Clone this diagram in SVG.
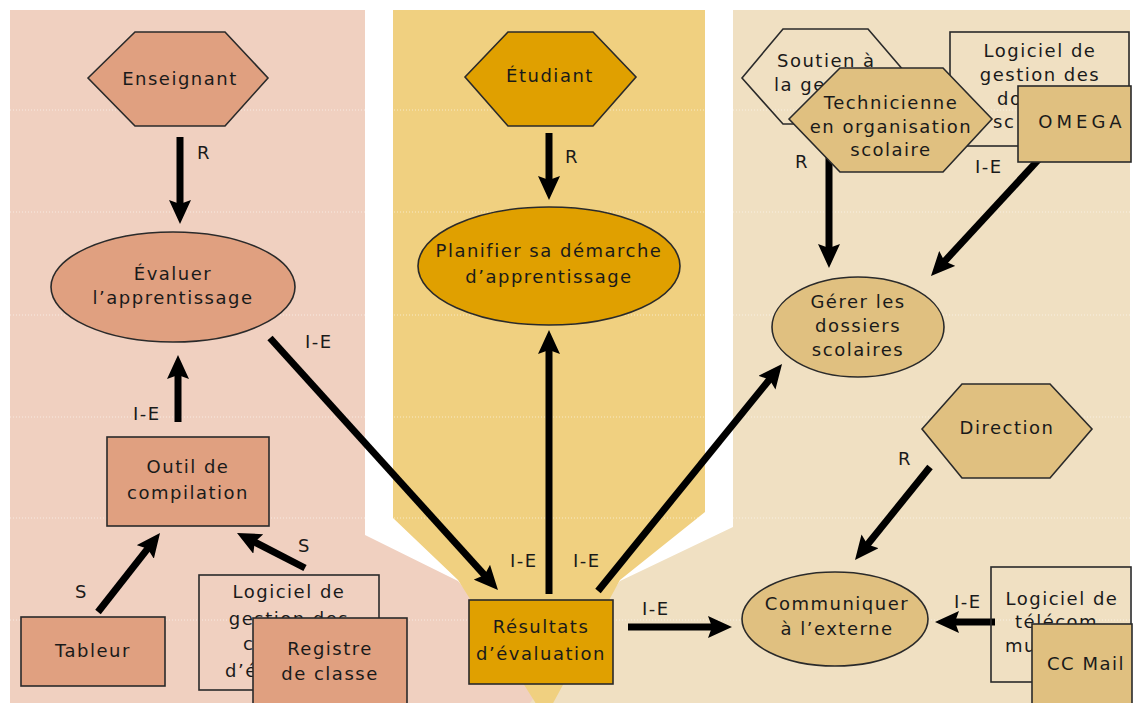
<svg xmlns="http://www.w3.org/2000/svg" width="1134" height="703" viewBox="0 0 1134 703">
<defs>
<marker id="ah" viewBox="0 0 24 22" refX="6" refY="11" markerWidth="24" markerHeight="22" markerUnits="userSpaceOnUse" orient="auto">
<path d="M0,0 L24,11 L0,22 L4,11 Z" fill="#000"/>
</marker>
<style>
.t{font-family:"DejaVu Sans","Liberation Sans",sans-serif;font-size:18px;fill:#1a1a1a;letter-spacing:1.5px;text-anchor:middle}
.s{text-anchor:start}
.lb{font-family:"DejaVu Sans","Liberation Sans",sans-serif;font-size:18px;fill:#1a1a1a;letter-spacing:1.5px}
.ln{stroke:#000;stroke-width:7;fill:none;marker-end:url(#ah)}
.sh{stroke:#2a2a2a;stroke-width:1.6}
.pk{fill:#e0a080}
.gd{fill:#e0a000}
.tn{fill:#e0c080}
.no{fill:none}
.dl{stroke:#ffffff;stroke-opacity:0.55;stroke-width:1;stroke-dasharray:1 2}
</style>
</defs>
<rect width="1134" height="703" fill="#ffffff"/>
<g id="background">
<polygon points="10,10 365,10 365,535 458,581 560,703 10,703" fill="#f0d0c0"/>
<polygon points="733,10 1130,10 1130,703 530,703 620,581 733,527" fill="#f0e0c2"/>
<polygon points="393,10 705,10 705,512 620,580 545,718 458,580 393,518" fill="#f0d080"/>
<line class="dl" x1="10" y1="110" x2="1130" y2="110"/>
<line class="dl" x1="10" y1="212" x2="1130" y2="212"/>
<line class="dl" x1="10" y1="315" x2="1130" y2="315"/>
<line class="dl" x1="10" y1="417" x2="1130" y2="417"/>
<line class="dl" x1="10" y1="518" x2="1130" y2="518"/>
<line class="dl" x1="10" y1="620" x2="1130" y2="620"/>
</g>
<g id="connectors">
<line class="ln" x1="180" y1="137" x2="180" y2="206"/>
<text class="lb" x="197" y="159">R</text>
<line class="ln" x1="178" y1="422" x2="178" y2="373"/>
<text class="lb" x="133" y="420">I-E</text>
<line class="ln" x1="98" y1="612" x2="148.9" y2="547.2"/>
<text class="lb" x="75" y="598">S</text>
<line class="ln" x1="305" y1="568" x2="253" y2="541.2"/>
<text class="lb" x="298" y="552">S</text>
<line class="ln" x1="549" y1="133" x2="549" y2="182"/>
<text class="lb" x="565" y="163">R</text>
<line class="ln" x1="270" y1="338" x2="485.9" y2="576.6"/>
<text class="lb" x="305" y="348">I-E</text>
<line class="ln" x1="549" y1="594" x2="549" y2="348"/>
<text class="lb" x="510" y="567">I-E</text>
<text class="lb" x="573" y="567">I-E</text>
<line class="ln" x1="598" y1="591" x2="770.7" y2="378"/>
<line class="ln" x1="628" y1="627" x2="714" y2="627"/>
<text class="lb" x="642" y="615">I-E</text>
<line class="ln" x1="829" y1="150" x2="829" y2="250"/>
<text class="lb" x="795" y="168">R</text>
<line class="ln" x1="1040" y1="158" x2="943.2" y2="262.8"/>
<text class="lb" x="975" y="173">I-E</text>
<line class="ln" x1="930" y1="467" x2="866.3" y2="546"/>
<text class="lb" x="898" y="465">R</text>
<line class="ln" x1="995" y1="622" x2="953" y2="622"/>
<text class="lb" x="954" y="608">I-E</text>
</g>
<g id="enseignant">
<polygon class="pk sh" points="88,78 135,32 225,32 268,78 225,126 135,126"/>
<text class="t" x="180" y="85">Enseignant</text>
</g>
<g id="evaluer">
<ellipse class="pk sh" cx="173" cy="287" rx="122" ry="55"/>
<text class="t" x="173" y="280">Évaluer</text>
<text class="t" x="173" y="304">l’apprentissage</text>
</g>
<g id="outil">
<rect class="pk sh" x="107" y="437" width="162" height="89"/>
<text class="t" x="188" y="473">Outil de</text>
<text class="t" x="188" y="499">compilation</text>
</g>
<g id="tableur">
<rect class="pk sh" x="21" y="617" width="144" height="69"/>
<text class="t" x="93" y="657">Tableur</text>
</g>
<g id="logiciel-evaluation">
<rect class="no sh" x="199" y="575" width="180" height="115"/>
<text class="t" x="289" y="598">Logiciel de</text>
<text class="t" x="289" y="625">gestion des</text>
<text class="t s" x="243" y="650">c</text>
<text class="t s" x="225" y="677">d’é</text>
</g>
<g id="registre">
<rect class="pk sh" x="253" y="618" width="154" height="92"/>
<text class="t" x="330" y="655">Registre</text>
<text class="t" x="330" y="680">de classe</text>
</g>
<g id="etudiant">
<polygon class="gd sh" points="465,77 508,32 593,32 636,77 593,126 508,126"/>
<text class="t" x="550" y="82">Étudiant</text>
</g>
<g id="planifier">
<ellipse class="gd sh" cx="549" cy="266" rx="131" ry="59"/>
<text class="t" x="549" y="257">Planifier sa démarche</text>
<text class="t" x="549" y="283">d’apprentissage</text>
</g>
<g id="resultats">
<rect class="gd sh" x="469" y="600" width="144" height="84"/>
<text class="t" x="541" y="633">Résultats</text>
<text class="t" x="541" y="660">d’évaluation</text>
</g>
<g id="soutien">
<polygon class="no sh" points="742,78 783,29 868,29 910,78 868,124 783,124"/>
<text class="t s" x="777" y="67">Soutien à</text>
<text class="t s" x="774" y="91">la ge</text>
</g>
<g id="logiciel-dossiers">
<rect class="no sh" x="950" y="32" width="179" height="114"/>
<text class="t" x="1040" y="57">Logiciel de</text>
<text class="t" x="1040" y="81">gestion des</text>
<text class="t s" x="997" y="105">do</text>
<text class="t s" x="993" y="128">sc</text>
</g>
<g id="technicienne">
<polygon class="tn sh" points="789,119 840,68 943,68 992,119 943,172 840,172"/>
<text class="t" x="891" y="109">Technicienne</text>
<text class="t" x="891" y="133">en organisation</text>
<text class="t" x="891" y="156">scolaire</text>
</g>
<g id="omega">
<rect class="tn sh" x="1018" y="86" width="113" height="76"/>
<text class="t" x="1082" y="128" style="letter-spacing:4px">OMEGA</text>
</g>
<g id="gerer">
<ellipse class="tn sh" cx="858" cy="327" rx="86" ry="50"/>
<text class="t" x="858" y="308">Gérer les</text>
<text class="t" x="858" y="332">dossiers</text>
<text class="t" x="858" y="356">scolaires</text>
</g>
<g id="direction">
<polygon class="tn sh" points="922,429 962,384 1050,384 1092,429 1050,478 962,478"/>
<text class="t" x="1007" y="434">Direction</text>
</g>
<g id="communiquer">
<ellipse class="tn sh" cx="835" cy="619" rx="93" ry="47"/>
<text class="t" x="837" y="610">Communiquer</text>
<text class="t" x="837" y="635">à l’externe</text>
</g>
<g id="logiciel-telecom">
<rect class="no sh" x="991" y="567" width="140" height="115"/>
<text class="t" x="1062" y="605">Logiciel de</text>
<text class="t s" x="1015" y="628">télécom</text>
<text class="t s" x="1005" y="652">mu</text>
</g>
<g id="ccmail">
<rect class="tn sh" x="1032" y="624" width="100" height="85"/>
<text class="t" x="1086" y="670">CC Mail</text>
</g>
</svg>
